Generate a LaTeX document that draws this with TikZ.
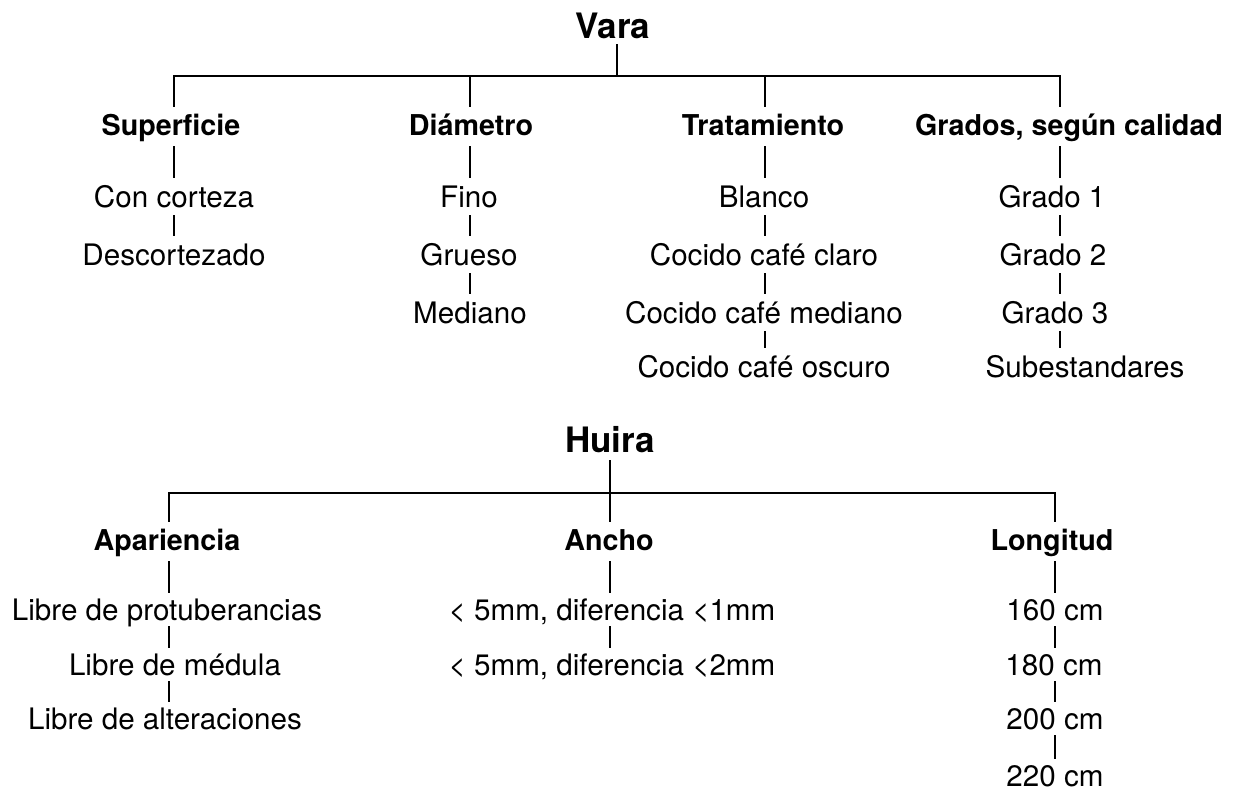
\documentclass[tikz,border=0pt]{standalone}
\usepackage{fontspec}
\setmainfont{TeX Gyre Heros}
\begin{document}
\begin{tikzpicture}[x=1pt,y=-1pt,
  ttl/.style={font=\fontsize{35}{40}\selectfont\bfseries, inner xsep=0pt, inner ysep=6pt, text height=25pt, text depth=0pt, anchor=base},
  hd/.style={font=\fontsize{28.7}{33}\selectfont\bfseries, inner xsep=0pt, inner ysep=8pt, text height=20pt, text depth=3pt, anchor=base},
  itm/.style={font=\fontsize{29.6}{34}\selectfont, inner xsep=0pt, inner ysep=8pt, text height=21pt, text depth=0pt, anchor=base},
  itmb/.style={itm, inner ysep=6pt},
  ln/.style={line width=2.6pt, line join=miter}]
\useasboundingbox (0,0) rectangle (1238,790);
\fill[white] (0,0) rectangle (1238,790);

% ---------------- Vara ----------------
\node[ttl] (vara) at (613,38) {Vara};
\coordinate (vbar) at (617,76);
\node[hd] (sup) at (171,135) {Superficie};
\node[hd] (dia) at (471,135) {Diámetro};
\node[hd] (tra) at (763,135) {Tratamiento};
\node[hd] (gra) at (1069,135) {Grados, según calidad};
\coordinate (xs) at (174,0);
\coordinate (xd) at (470,0);
\coordinate (xt) at (765,0);
\coordinate (xg) at (1060,0);

\draw[ln] (vara.south -| vbar) -- (vbar);
\draw[ln] (vbar) -| (sup.north -| xs);
\draw[ln] (vbar) -| (dia.north -| xd);
\draw[ln] (vbar) -| (tra.north -| xt);
\draw[ln] (vbar) -| (gra.north -| xg);

\node[itm] (s1) at (174,207) {Con corteza};
\node[itm] (s2) at (174,265) {Descortezado};
\draw[ln] (sup.south -| xs) -- (s1.north -| xs);
\draw[ln] (s1.south -| xs) -- (s2.north -| xs);

\node[itm] (d1) at (469,207) {Fino};
\node[itm] (d2) at (469,265) {Grueso};
\node[itm] (d3) at (470,323) {Mediano};
\draw[ln] (dia.south -| xd) -- (d1.north -| xd);
\draw[ln] (d1.south -| xd) -- (d2.north -| xd);
\draw[ln] (d2.south -| xd) -- (d3.north -| xd);

\node[itm] (t1) at (764,207) {Blanco};
\node[itm] (t2) at (764,265) {Cocido café claro};
\node[itm] (t3) at (764,323) {Cocido café mediano};
\node[itm] (t4) at (764,377) {Cocido café oscuro};
\draw[ln] (tra.south -| xt) -- (t1.north -| xt);
\draw[ln] (t1.south -| xt) -- (t2.north -| xt);
\draw[ln] (t2.south -| xt) -- (t3.north -| xt);
\draw[ln] (t3.south -| xt) -- (t4.north -| xt);

\node[itm] (g1) at (1052,207) {Grado 1};
\node[itm] (g2) at (1053,265) {Grado 2};
\node[itm] (g3) at (1055,323) {Grado 3};
\node[itm] (g4) at (1085,377) {Subestandares};
\draw[ln] (gra.south -| xg) -- (g1.north -| xg);
\draw[ln] (g1.south -| xg) -- (g2.north -| xg);
\draw[ln] (g2.south -| xg) -- (g3.north -| xg);
\draw[ln] (g3.south -| xg) -- (g4.north -| xg);

% ---------------- Huira ----------------
\node[ttl, inner ysep=8pt] (hui) at (610,452) {Huira};
\coordinate (hbar) at (610,493);
\node[hd] (apa) at (167,550) {Apariencia};
\node[hd] (anc) at (609,550) {Ancho};
\node[hd] (lon) at (1052,550) {Longitud};
\coordinate (xa) at (169,0);
\coordinate (xn) at (610,0);
\coordinate (xl) at (1055,0);

\draw[ln] (hui.south -| xn) -- (anc.north -| xn);
\draw[ln] (hbar) -| (apa.north -| xa);
\draw[ln] (hbar) -| (lon.north -| xl);

\node[itmb] (a1) at (167,620) {Libre de protuberancias};
\node[itmb] (a2) at (175,675) {Libre de médula};
\node[itmb] (a3) at (165,729) {Libre de alteraciones};
\draw[ln] (apa.south -| xa) -- (a1.north -| xa);
\draw[ln] (a1.south -| xa) -- (a2.north -| xa);
\draw[ln] (a2.south -| xa) -- (a3.north -| xa);

\node[itmb] (n1) at (612,620) {< 5mm, diferencia <1mm};
\node[itmb] (n2) at (612,675) {< 5mm, diferencia <2mm};
\draw[ln] (anc.south -| xn) -- (n1.north -| xn);
\draw[ln] (n1.south -| xn) -- (n2.north -| xn);

\node[itmb] (l1) at (1055,620) {160 cm};
\node[itmb] (l2) at (1054,675) {180 cm};
\node[itmb] (l3) at (1055,729) {200 cm};
\node[itmb] (l4) at (1055,786) {220 cm};
\draw[ln] (lon.south -| xl) -- (l1.north -| xl);
\draw[ln] (l1.south -| xl) -- (l2.north -| xl);
\draw[ln] (l2.south -| xl) -- (l3.north -| xl);
\draw[ln] (l3.south -| xl) -- (l4.north -| xl);
\end{tikzpicture}
\end{document}
